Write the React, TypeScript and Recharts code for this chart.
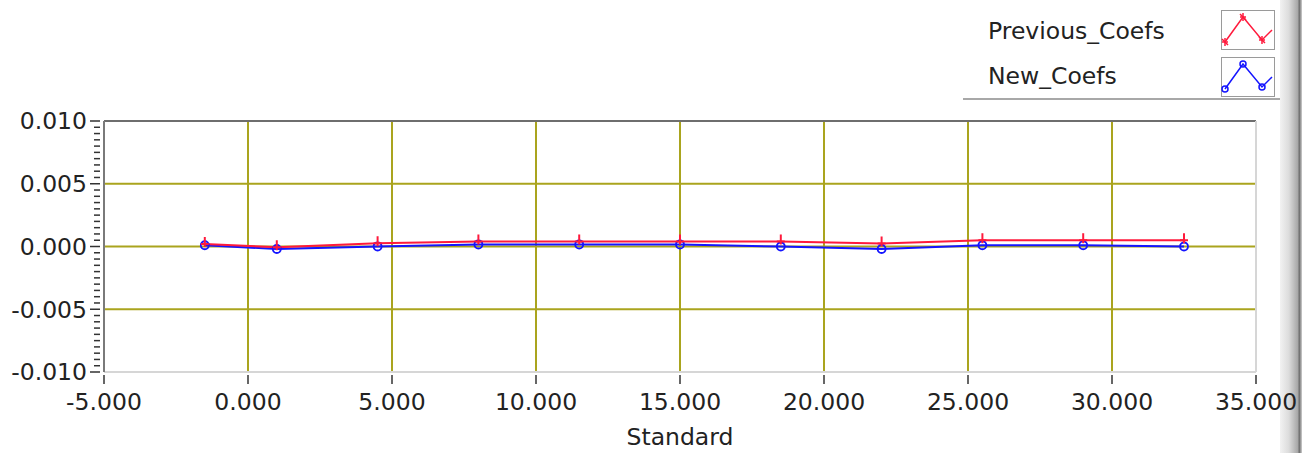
import { CartesianGrid, Line, LineChart, ReferenceLine, XAxis, YAxis } from "recharts";

const standard = [-1.5, 1, 4.5, 8, 11.5, 15, 18.5, 22, 25.5, 29, 32.5];
const previousCoefs = [0.0002, -0.00006, 0.00026, 0.0004, 0.0004, 0.0004, 0.0004, 0.00024, 0.0005, 0.0005, 0.0005];
const newCoefs = [0.0001, -0.0002, 0.0, 0.00016, 0.00016, 0.00016, 0.0, -0.0002, 0.0001, 0.0001, 0.0];
const xTicks = [-5, 0, 5, 10, 15, 20, 25, 30, 35];
const yMajorTicks = [-0.01, -0.005, 0, 0.005, 0.01];

const FONT = "'DejaVu Sans', Verdana, sans-serif";
const FS = 23.5;
const GRID = "#aaa41e";
const RED = "#ff1a3c";
const BLUE = "#1414ff";

// minor ticks every 0.0005 on the y axis
const yAllTicks: number[] = [];
for (let i = -20; i <= 20; i++) yAllTicks.push(i / 2000);

const data = standard.map((s, i) => ({ s, prev: previousCoefs[i], next: newCoefs[i] }));

function XTick({ x, y, payload }: any) {
  return (
    <g>
      <line x1={x} x2={x} y1={y + 3} y2={y + 12} stroke="#333" strokeWidth={1.5} />
      <text x={x} y={y + 21} dy="0.71em" textAnchor="middle" fill="#222" fontSize={FS} fontFamily={FONT}>
        {Number(payload.value).toFixed(3)}
      </text>
    </g>
  );
}

function YTick({ x, y, payload }: any) {
  const v = Number(payload.value);
  const major = Math.abs(v * 200 - Math.round(v * 200)) < 1e-6;
  return (
    <g>
      <line x1={x - (major ? 14 : 10)} x2={x - 4} y1={y} y2={y} stroke="#333" strokeWidth={1.5} />
      {major && (
        <text x={x - 17} y={y} dy="0.36em" textAnchor="end" fill="#222" fontSize={FS} fontFamily={FONT}>
          {(Math.abs(v) < 1e-9 ? 0 : v).toFixed(3)}
        </text>
      )}
    </g>
  );
}

function RedDot({ cx, cy }: any) {
  return (
    <g stroke={RED} strokeWidth={2}>
      <line x1={cx} x2={cx} y1={cy - 7} y2={cy + 3} />
      <line x1={cx - 4} x2={cx + 4} y1={cy} y2={cy} />
    </g>
  );
}

function BlueDot({ cx, cy }: any) {
  return <circle cx={cx} cy={cy} r={4} fill="none" stroke={BLUE} strokeWidth={1.8} />;
}

function LegendIcon({ color, star }: { color: string; star: boolean }) {
  const pts = [
    [4, 32],
    [22, 7],
    [41, 30],
    [51, 20],
  ];
  return (
    <svg width={54} height={40} style={{ position: "absolute", left: 258, top: star ? 10 : 57 }}>
      <rect x={0.5} y={0.5} width={53} height={39} fill="#fff" stroke="#9a9a9a" />
      <polyline points={pts.map((p) => p.join(",")).join(" ")} fill="none" stroke={color} strokeWidth={1.5} />
      {pts.slice(0, 3).map(([px, py], i) =>
        star ? (
          <g key={i} stroke={color} strokeWidth={1.5}>
            <line x1={px - 3} x2={px + 3} y1={py} y2={py} />
            <line x1={px} x2={px} y1={py - 4} y2={py + 4} />
            <line x1={px - 3} x2={px + 3} y1={py - 3} y2={py + 3} />
          </g>
        ) : (
          <circle key={i} cx={px} cy={py} r={3} fill="none" stroke={color} strokeWidth={1.5} />
        )
      )}
    </svg>
  );
}

export default function App() {
  return (
    <div style={{ position: "absolute", left: 0, top: 0, width: 1302, height: 453, background: "#fff", fontFamily: FONT }}>
      <div
        style={{
          position: "absolute",
          left: 1280,
          top: 0,
          width: 22,
          height: 453,
          background: "linear-gradient(to right, #f2f2f2 0%, #dcdcdc 40%, #a8a8a8 80%, #6e6e6e 88%, #d0d0d0 100%)",
        }}
      />

      <div style={{ position: "absolute", left: 0, top: 0 }}>
        <LineChart width={1302} height={453} data={data} margin={{ top: 121, right: 46, bottom: 0, left: 0 }}>
          <CartesianGrid
            stroke={GRID}
            strokeWidth={2}
            horizontalValues={yMajorTicks}
            verticalValues={xTicks}
          />
          <XAxis
            dataKey="s"
            type="number"
            domain={[-5, 35]}
            ticks={xTicks}
            height={81}
            tickSize={0}
            tickMargin={0}
            tick={<XTick />}
            tickLine={false}
            axisLine={{ stroke: "#d6d6d6", strokeWidth: 2 }}
            label={{ value: "Standard", position: "insideBottom", offset: 8, fill: "#222", fontSize: FS, fontFamily: FONT }}
          />
          <YAxis
            type="number"
            domain={[-0.01, 0.01]}
            ticks={yAllTicks}
            interval={0}
            width={104}
            tickSize={0}
            tickMargin={0}
            tick={<YTick />}
            tickLine={false}
            axisLine={{ stroke: "#7a7a7a", strokeWidth: 2 }}
          />
          <ReferenceLine y={0.01} stroke="#6e6e6e" strokeWidth={2} />
          <ReferenceLine x={35} stroke="#d6d6d6" strokeWidth={2} />
          <Line
            type="linear"
            dataKey="next"
            stroke={BLUE}
            strokeWidth={2}
            dot={<BlueDot />}
            isAnimationActive={false}
          />
          <Line
            type="linear"
            dataKey="prev"
            stroke={RED}
            strokeWidth={2}
            dot={<RedDot />}
            isAnimationActive={false}
          />
        </LineChart>
      </div>

      <div
        style={{
          position: "absolute",
          left: 963,
          top: 0,
          width: 317,
          height: 98,
          borderBottom: "2px solid #a8a8a8",
          background: "#fff",
        }}
      >
        <div style={{ position: "absolute", left: 25, top: 17, fontSize: FS, color: "#222" }}>Previous_Coefs</div>
        <div style={{ position: "absolute", left: 25, top: 62, fontSize: FS, color: "#222" }}>New_Coefs</div>
        <LegendIcon color={RED} star={true} />
        <LegendIcon color={BLUE} star={false} />
      </div>
    </div>
  );
}
